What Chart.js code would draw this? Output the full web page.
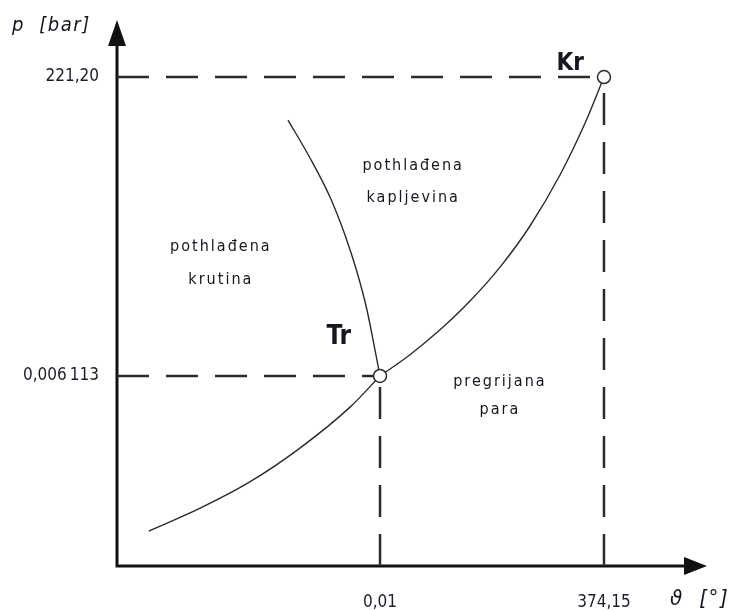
<!DOCTYPE html>
<html>
<head>
<meta charset="utf-8">
<script src="https://cdn.jsdelivr.net/npm/chart.js@4/dist/chart.umd.min.js"></script>
<style>
  html, body { margin: 0; padding: 0; background: #fff; }
  #wrap { width: 732px; height: 610px; }
</style>
</head>
<body>
<div id="wrap"><canvas id="c"></canvas></div>
<script>
"use strict";

// schematic units (0..100 on both axes)
const triplePoint = { x: 44.58, y: 34.80 };
const criticalPoint = { x: 82.54, y: 89.56 };

const sublimationX = [5.4, 14.1, 22.5, 31.0, 39.5, 44.58];
const sublimationY = [6.4, 10.6, 15.4, 21.6, 29.1, 34.80];

const meltingX = [28.98, 32.71, 36.10, 38.64, 40.68, 42.37, 43.56, 44.58];
const meltingY = [81.68, 74.73, 67.58, 60.62, 53.85, 46.89, 40.48, 34.80];

const vaporX = [44.58, 49.66, 54.75, 59.83, 64.92, 70.00, 75.08, 79.32, 82.54];
const vaporY = [34.80, 38.70, 43.26, 48.53, 54.74, 62.27, 71.61, 81.08, 89.56];

const xTickValues = [44.58, 82.54];
const xTickLabels = ["0,01", "374,15"];
const yTickValues = [34.80, 89.56];
const yTickLabels = ["0,006\u2009113", "221,20"];

const regionNames = [
    { lines: ["pothlađena", "kapljevina"], x: 50.2, y: [73.3, 67.4] },
    { lines: ["pothlađena", "krutina"], x: 17.6, y: [58.4, 52.4] },
    { lines: ["pregrijana", "para"], x: 64.9, y: [33.7, 28.6] }
];
const pointNames = [
    { text: "Tr", x: 37.6, y: 41.9, size: 26 },
    { text: "Kr", x: 76.8, y: 91.9, size: 24 }
];

function pairs(xs, ys) {
    return xs.map(function(x, i) { return { x: x, y: ys[i] }; });
}

const ink = "#2b2b2b";
const font = "'DejaVu Sans Condensed', 'DejaVu Sans', sans-serif";

function curve(xs, ys) {
    return {
        data: pairs(xs, ys),
        showLine: true,
        borderColor: ink,
        borderWidth: 1.4,
        pointRadius: 0,
        cubicInterpolationMode: "monotone",
        order: 2
    };
}
function dashed(a, b) {
    return {
        data: [a, b],
        showLine: true,
        borderColor: ink,
        borderWidth: 2.5,
        borderDash: [32, 17],
        pointRadius: 0,
        tension: 0,
        order: 3
    };
}

function noEdgePadding(scale) {
    scale.paddingTop = 0;
    scale.paddingBottom = 0;
    scale.paddingLeft = 0;
    scale.paddingRight = 0;
}

const axesPlugin = {
    id: "axes",
    beforeDatasetsDraw(chart) {
        const ctx = chart.ctx;
        const x0 = chart.scales.x.getPixelForValue(0);
        const x1 = chart.scales.x.getPixelForValue(100);
        const y0 = chart.scales.y.getPixelForValue(0);
        const y1 = chart.scales.y.getPixelForValue(100);
        ctx.save();
        ctx.strokeStyle = "#111";
        ctx.fillStyle = "#111";
        ctx.lineWidth = 3;
        ctx.beginPath();
        ctx.moveTo(x0, y0 + 1.5);
        ctx.lineTo(x0, y1 + 22);
        ctx.moveTo(x0 - 1.5, y0);
        ctx.lineTo(x1 - 20, y0);
        ctx.stroke();
        ctx.beginPath();
        ctx.moveTo(x0, y1);
        ctx.lineTo(x0 - 9, y1 + 26);
        ctx.lineTo(x0 + 9, y1 + 26);
        ctx.closePath();
        ctx.fill();
        ctx.beginPath();
        ctx.moveTo(x1, y0);
        ctx.lineTo(x1 - 23, y0 - 9);
        ctx.lineTo(x1 - 23, y0 + 9);
        ctx.closePath();
        ctx.fill();
        ctx.restore();
    },
    afterDraw(chart) {
        const ctx = chart.ctx;
        const sx = chart.scales.x, sy = chart.scales.y;
        ctx.save();
        ctx.fillStyle = "#15151f";
        ctx.textAlign = "center";
        ctx.textBaseline = "middle";
        ctx.font = "16px " + font;
        ctx.letterSpacing = "2px";
        regionNames.forEach(function(r) {
            r.lines.forEach(function(t, i) {
                ctx.fillText(t, sx.getPixelForValue(r.x), sy.getPixelForValue(r.y[i]));
            });
        });
        ctx.letterSpacing = "0px";
        pointNames.forEach(function(p) {
            ctx.font = "bold " + p.size + "px " + font;
            ctx.fillText(p.text, sx.getPixelForValue(p.x), sy.getPixelForValue(p.y));
        });
        ctx.textAlign = "left";
        ctx.letterSpacing = "1.5px";
        ctx.font = "italic 20px " + font;
        ctx.fillText("p  [bar]", 12, 26);
        ctx.font = "italic 22px " + font;
        ctx.fillText("ϑ  [°]", 670, 599);
        ctx.restore();
    }
};

new Chart(document.getElementById("c"), {
    type: "scatter",
    data: {
        datasets: [
            curve(sublimationX, sublimationY),
            curve(meltingX, meltingY),
            curve(vaporX, vaporY),
            dashed({ x: 0, y: criticalPoint.y }, criticalPoint),
            dashed({ x: 0, y: triplePoint.y }, triplePoint),
            dashed({ x: criticalPoint.x, y: 0 }, criticalPoint),
            dashed({ x: triplePoint.x, y: 0 }, triplePoint),
            {
                data: [triplePoint, criticalPoint],
                pointRadius: 6.5,
                pointBackgroundColor: "#fff",
                pointBorderColor: ink,
                pointBorderWidth: 1.5,
                order: 1
            }
        ]
    },
    options: {
        responsive: true,
        maintainAspectRatio: false,
        animation: false,
        clip: false,
        layout: { padding: { left: 0, right: 25, top: 20, bottom: 0 } },
        plugins: {
            legend: { display: false },
            tooltip: { enabled: false }
        },
        scales: {
            x: {
                type: "linear",
                min: 0,
                max: 100,
                grid: { display: false, drawTicks: false },
                border: { display: false },
                afterBuildTicks: function(scale) {
                    scale.ticks = xTickValues.map(function(v) { return { value: v }; });
                },
                afterFit: function(scale) { scale.height = 44; noEdgePadding(scale); },
                ticks: {
                    padding: 26,
                    color: "#1c1c28",
                    font: { family: font, size: 17 },
                    maxRotation: 0,
                    autoSkip: false,
                    callback: function(v) { return xTickLabels[xTickValues.indexOf(v)]; }
                }
            },
            y: {
                type: "linear",
                min: 0,
                max: 100,
                grid: { display: false, drawTicks: false },
                border: { display: false },
                afterBuildTicks: function(scale) {
                    scale.ticks = yTickValues.map(function(v) { return { value: v }; });
                },
                afterFit: function(scale) { scale.width = 117; noEdgePadding(scale); },
                ticks: {
                    padding: 18,
                    color: "#1c1c28",
                    font: { family: font, size: 17 },
                    autoSkip: false,
                    callback: function(v) { return yTickLabels[yTickValues.indexOf(v)]; }
                }
            }
        }
    },
    plugins: [axesPlugin]
});
</script>
</body>
</html>
